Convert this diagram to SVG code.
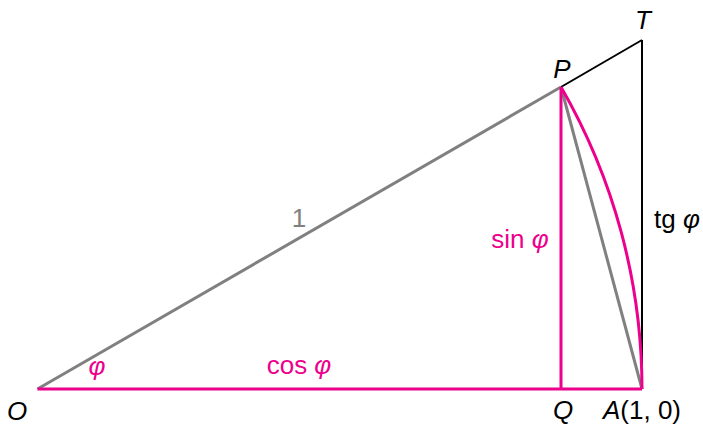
<svg xmlns="http://www.w3.org/2000/svg" width="703" height="427" viewBox="0 0 703 427">
<style>
text{font-family:"Liberation Sans","DejaVu Sans",sans-serif;font-size:26px;text-anchor:middle}
.it{font-style:italic}
.pk{fill:#ec008c}
.gy{fill:#808080}
.bk{fill:#000}
.lp{stroke:#ec008c;stroke-width:3;fill:none}
.lg{stroke:#808080;stroke-width:3;fill:none}
.lb{stroke:#000;stroke-width:2;fill:none}
</style>
<rect width="703" height="427" fill="#fff"/>
<g id="connectors">
<line class="lg" x1="37.5" y1="389" x2="561" y2="87"/>
<line class="lg" x1="561" y1="87" x2="642" y2="389"/>
<line class="lb" x1="561" y1="87" x2="642" y2="40"/>
<line class="lb" x1="642" y1="40" x2="642" y2="389"/>
<path class="lp" d="M642 389 A604.5 604.5 0 0 0 561 87"/>
<line class="lp" x1="561" y1="87" x2="561" y2="389"/>
<line class="lp" x1="37.5" y1="389" x2="642" y2="389"/>
</g>
<g id="O"><text class="it bk" x="17" y="420">O</text></g>
<g id="Q"><text class="it bk" x="563" y="419">Q</text></g>
<g id="A"><text class="bk" x="642" y="419"><tspan class="it">A</tspan>(1, 0)</text></g>
<g id="P"><text class="it bk" x="562" y="78">P</text></g>
<g id="T"><text class="it bk" x="643" y="29">T</text></g>
<g id="one"><text class="gy" x="299" y="227">1</text></g>
<g id="sin"><text class="pk" x="520" y="248">sin <tspan class="it">φ</tspan></text></g>
<g id="tg"><text class="bk" x="677" y="228">tg <tspan class="it">φ</tspan></text></g>
<g id="cos"><text class="pk" x="299" y="374">cos <tspan class="it">φ</tspan></text></g>
<g id="phi"><text class="pk it" x="97" y="375">φ</text></g>
</svg>
